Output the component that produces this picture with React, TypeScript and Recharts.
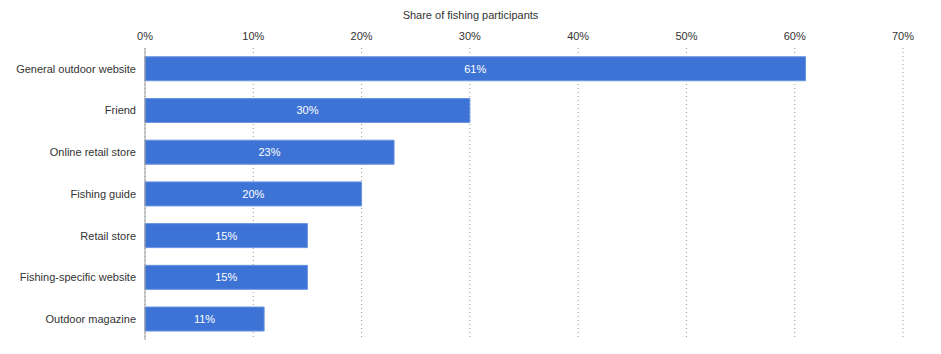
import React from "react";
import { BarChart, Bar, XAxis, YAxis, CartesianGrid, LabelList } from "recharts";

const categories = [
  "General outdoor website",
  "Friend",
  "Online retail store",
  "Fishing guide",
  "Retail store",
  "Fishing-specific website",
  "Outdoor magazine",
];
const shares = [61, 30, 23, 20, 15, 15, 11];
const xTicks = [0, 10, 20, 30, 40, 50, 60, 70];
const axisTitle = "Share of fishing participants";

const data = categories.map((name, i) => ({ name, value: shares[i] }));

const font = "'Liberation Sans', Arial, Helvetica, sans-serif";

const YTick = (props: any) => {
  const { x, y, payload } = props;
  return (
    <text x={x} y={y} dy="0.35em" textAnchor="end" fill="#333" fontSize={11} fontFamily={font}>
      {payload.value}
    </text>
  );
};

export default function App() {
  return (
    <div style={{ position: "absolute", left: 0, top: 0, width: 941, height: 354, background: "#fff", fontFamily: font }}>
      <div
        style={{
          position: "absolute",
          left: 0,
          width: 941,
          top: 9,
          textAlign: "center",
          fontSize: 11,
          color: "#333",
          fontFamily: font,
        }}
      >
        {axisTitle}
      </div>
      <BarChart
        width={941}
        height={354}
        data={data}
        layout="vertical"
        margin={{ top: 20, right: 38, bottom: 14, left: 0 }}
        barCategoryGap="21%"
      >
        <CartesianGrid horizontal={false} vertical={true} stroke="#999" strokeDasharray="1 3" />
        <XAxis
          type="number"
          orientation="top"
          domain={[0, 70]}
          ticks={xTicks}
          tickFormatter={(v: number) => `${v}%`}
          axisLine={false}
          tickLine={false}
          tickSize={0}
          tickMargin={8}
          height={28}
          tick={{ fill: "#333", fontSize: 11, fontFamily: font }}
          interval={0}
        />
        <YAxis
          type="category"
          dataKey="name"
          width={145}
          axisLine={{ stroke: "#999" }}
          tickLine={false}
          tickSize={0}
          tickMargin={9}
          tick={<YTick />}
          interval={0}
        />
        <Bar dataKey="value" fill="#3e73d6" stroke="#6a93e0" strokeWidth={1} isAnimationActive={false}>
          <LabelList
            dataKey="value"
            position="center"
            formatter={(v: number) => `${v}%`}
            fill="#fff"
            style={{ fontSize: 11, fontFamily: font }}
          />
        </Bar>
      </BarChart>
    </div>
  );
}
